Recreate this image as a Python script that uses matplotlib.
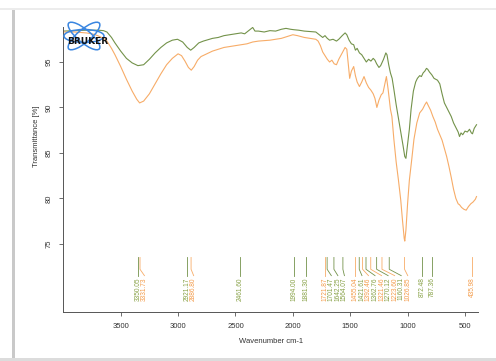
import matplotlib
matplotlib.use("Agg")

import matplotlib.pyplot as plt
from matplotlib.patches import Ellipse, Rectangle
from matplotlib.transforms import IdentityTransform

# spectrum data --------
green_wn = [4000, 3900, 3800, 3700, 3650, 3620, 3580, 3550, 3500, 3450, 3400, 3350, 3300, 3250,
            3200, 3150, 3100, 3050, 3005, 2960, 2920, 2890, 2860, 2820, 2780, 2700, 2650, 2600,
            2550, 2500, 2450, 2420, 2400, 2370, 2350, 2330, 2300, 2250, 2200, 2150, 2100, 2060,
            2020, 1990, 1950, 1900, 1850, 1800, 1770, 1740, 1720, 1700, 1680, 1650, 1620, 1600,
            1570, 1545, 1530, 1510, 1490, 1470, 1455, 1440, 1420, 1400, 1380, 1360, 1340, 1320,
            1300, 1285, 1270, 1250, 1235, 1210, 1190, 1180, 1165, 1150, 1135, 1120, 1100, 1080,
            1060, 1040, 1025, 1015, 1000, 985, 970, 950, 930, 915, 895, 880, 865, 850, 836, 825,
            810, 790, 770, 740, 720, 700, 680, 660, 640, 620, 600, 580, 560, 548, 535, 520, 500,
            480, 461, 445, 435, 420, 400]
green_t = [98.4, 98.45, 98.5, 98.5, 98.45, 98.3, 97.7, 97.1, 96.2, 95.4, 94.9, 94.6, 94.7, 95.3,
           96.0, 96.6, 97.1, 97.4, 97.5, 97.2, 96.6, 96.3, 96.6, 97.1, 97.3, 97.6, 97.7, 97.9,
           98.0, 98.1, 98.2, 98.1, 98.3, 98.6, 98.8, 98.4, 98.4, 98.3, 98.45, 98.4, 98.6, 98.7,
           98.6, 98.55, 98.5, 98.4, 98.35, 98.3, 98.0, 97.7, 97.9, 97.6, 97.4, 97.5, 97.3, 97.5,
           97.9, 98.2, 98.0, 97.4, 97.0, 96.9, 96.3, 96.5, 96.0, 95.8, 95.4, 95.0, 95.3, 95.1,
           95.4, 95.2, 94.8, 94.4, 94.6, 95.3, 96.0, 95.8, 94.7, 93.8, 93.2, 92.0, 90.3, 88.8,
           87.3, 85.8, 84.6, 84.4, 86.0, 87.6, 89.8, 91.8, 92.8, 93.2, 93.5, 93.4, 93.8, 94.0,
           94.3, 94.2, 93.9, 93.6, 93.2, 93.0, 92.6, 91.5, 90.5, 90.0, 89.5, 89.0, 88.3, 87.8,
           87.3, 86.8, 87.2, 87.0, 87.4, 87.3, 87.6, 87.2, 87.1, 87.7, 88.1]

orange_wn = [4000, 3900, 3800, 3750, 3700, 3650, 3620, 3580, 3550, 3500, 3450, 3400, 3360, 3335,
             3300, 3250, 3200, 3150, 3100, 3050, 3000, 2970, 2940, 2910, 2885, 2860, 2830, 2800,
             2750, 2700, 2650, 2600, 2550, 2500, 2450, 2400, 2350, 2300, 2250, 2200, 2150, 2100,
             2050, 2000, 1960, 1900, 1850, 1800, 1780, 1760, 1740, 1720, 1700, 1680, 1660, 1640,
             1620, 1600, 1570, 1545, 1530, 1515, 1505, 1490, 1470, 1455, 1440, 1420, 1400, 1380,
             1360, 1340, 1320, 1300, 1285, 1268, 1250, 1230, 1215, 1200, 1185, 1170, 1150, 1137,
             1120, 1100, 1080, 1060, 1045, 1030, 1025, 1015, 1000, 985, 965, 945, 920, 895, 870,
             850, 835, 820, 800, 780, 760, 740, 720, 700, 680, 660, 640, 620, 600, 580, 560, 548,
             530, 510, 490, 470, 450, 430, 410, 400]
orange_t = [98.3, 98.3, 98.2, 98.1, 97.9, 97.6, 97.3, 96.5, 95.8, 94.5, 93.1, 91.8, 90.9, 90.5,
            90.7, 91.5, 92.6, 93.7, 94.7, 95.4, 95.9, 95.7, 95.1, 94.4, 94.1, 94.5, 95.2, 95.6,
            95.9, 96.2, 96.4, 96.6, 96.7, 96.8, 96.9, 97.0, 97.2, 97.3, 97.35, 97.4, 97.5, 97.6,
            97.8, 98.0, 97.9, 97.7, 97.6, 97.5, 97.3, 96.8, 96.1, 95.7, 95.3, 95.0, 95.2, 94.8,
            94.7, 95.3, 96.0, 96.6, 96.4, 94.5, 93.2, 94.0, 94.5, 93.5, 92.8, 92.3, 92.8, 93.4,
            92.7, 92.2, 91.9, 91.5, 91.0, 90.0, 90.8, 91.4, 91.6, 92.5, 93.4, 92.0, 89.8, 89.0,
            86.5, 84.0, 82.0, 79.8, 77.6, 75.6, 75.3, 76.5, 79.5, 82.0, 84.2, 86.5, 88.3, 89.4,
            89.8, 90.3, 90.6, 90.2, 89.7, 89.0, 88.4, 87.6, 87.0, 86.4, 85.5, 84.6, 83.5, 82.3,
            81.0, 80.0, 79.4, 79.3, 79.0, 78.8, 78.7, 79.1, 79.4, 79.6, 79.9, 80.2]

# picked peaks, high to low wavenumber
peak_wn = [3350.05, 3331.73, 2921.17, 2886.80, 2461.60, 1994.00, 1881.30,
           1721.87, 1701.47, 1642.25, 1564.07,
           1455.04, 1421.61, 1392.46, 1362.76, 1321.46, 1270.12, 1223.60, 1160.31, 1026.85,
           872.48, 787.36, 435.98]
peak_series = ["g", "o", "g", "o", "g", "g", "g",
               "o", "g", "g", "g",
               "o", "g", "o", "g", "o", "g", "o", "g", "o",
               "g", "g", "o"]

GREEN = "#73924a"
ORANGE = "#f7ac68"
TXT_GREEN = "#86a044"
TXT_ORANGE = "#f39a48"
W, H = 496, 361

fig = plt.figure(figsize=(W / 100, H / 100), dpi=100, facecolor="white")

# panel frame with a soft shadow on the left/top
fig.add_artist(Rectangle((12 / W, 0), 3 / W, 1 - 8 / H, transform=fig.transFigure,
                         facecolor="#c9c9c9", edgecolor="none"))
fig.add_artist(Rectangle((0, 1 - 10 / H), 1, 2 / H, transform=fig.transFigure,
                         facecolor="#ececec", edgecolor="none"))
fig.add_artist(Rectangle((0, 0), 1, 3 / H, transform=fig.transFigure,
                         facecolor="#dcdcdc", edgecolor="none"))

ax = fig.add_axes([63.3 / W, 1 - 312 / H, (478 - 63.3) / W, (312 - 27) / H])
ax.plot(green_wn, green_t, color=GREEN, lw=0.8)
ax.plot(orange_wn, orange_t, color=ORANGE, lw=0.8)

ax.set_xlim(4000, 387)
ax.set_ylim(67.5, 98.85)

# peak markers: short drop line, then a slant to the spread-out label
min_gap = 57
top, bend, foot = 73.5, 72.2, 71.5
prev = None
for wn, s in zip(peak_wn, peak_series):
    lab = wn if prev is None else min(wn, prev - min_gap)
    prev = lab
    col = ORANGE if s == "o" else GREEN
    tcol = TXT_ORANGE if s == "o" else TXT_GREEN
    ax.plot([wn, wn, lab], [top, bend, foot], color=col, lw=0.6)
    ax.text(lab, foot - 0.2, f"{wn:.2f}", rotation=90, ha="center", va="top",
            fontsize=4.7, color=tcol, family="Liberation Sans")

for side in ("top", "right"):
    ax.spines[side].set_visible(False)
for side in ("left", "bottom"):
    ax.spines[side].set_color("#555555")
    ax.spines[side].set_linewidth(0.7)

ax.set_xticks([3500, 3000, 2500, 2000, 1500, 1000, 500])
ax.set_yticks([75, 80, 85, 90, 95])
ax.tick_params(direction="out", length=3, width=0.6, colors="#555555",
               labelsize=5.5, labelcolor="#333333", pad=5)
for t in ax.get_yticklabels():
    t.set_rotation(90)
    t.set_va("center")
    t.set_family("Liberation Sans")
for t in ax.get_xticklabels():
    t.set_family("Liberation Sans")

ax.set_xlabel("Wavenumber cm-1", fontsize=5.5, color="#333333", family="Liberation Sans",
              labelpad=6)
ax.set_ylabel("Transmittance [%]", fontsize=5.5, color="#333333", family="Liberation Sans")
ax.yaxis.set_label_coords(-0.055, 0.615)

# vendor logo: three orbits and the name
for ang in (0, 40, -40):
    fig.add_artist(Ellipse((84, H - 36), 40, 13, angle=ang, transform=IdentityTransform(),
                           fill=False, edgecolor="#3a86e0", lw=1.1))
fig.text(88 / W, 1 - 41 / H, "BRUKER", fontsize=6.5, fontweight="heavy", color="#111111",
         ha="center", va="center", family="DejaVu Sans")

fig.savefig("out.png", dpi=100)
